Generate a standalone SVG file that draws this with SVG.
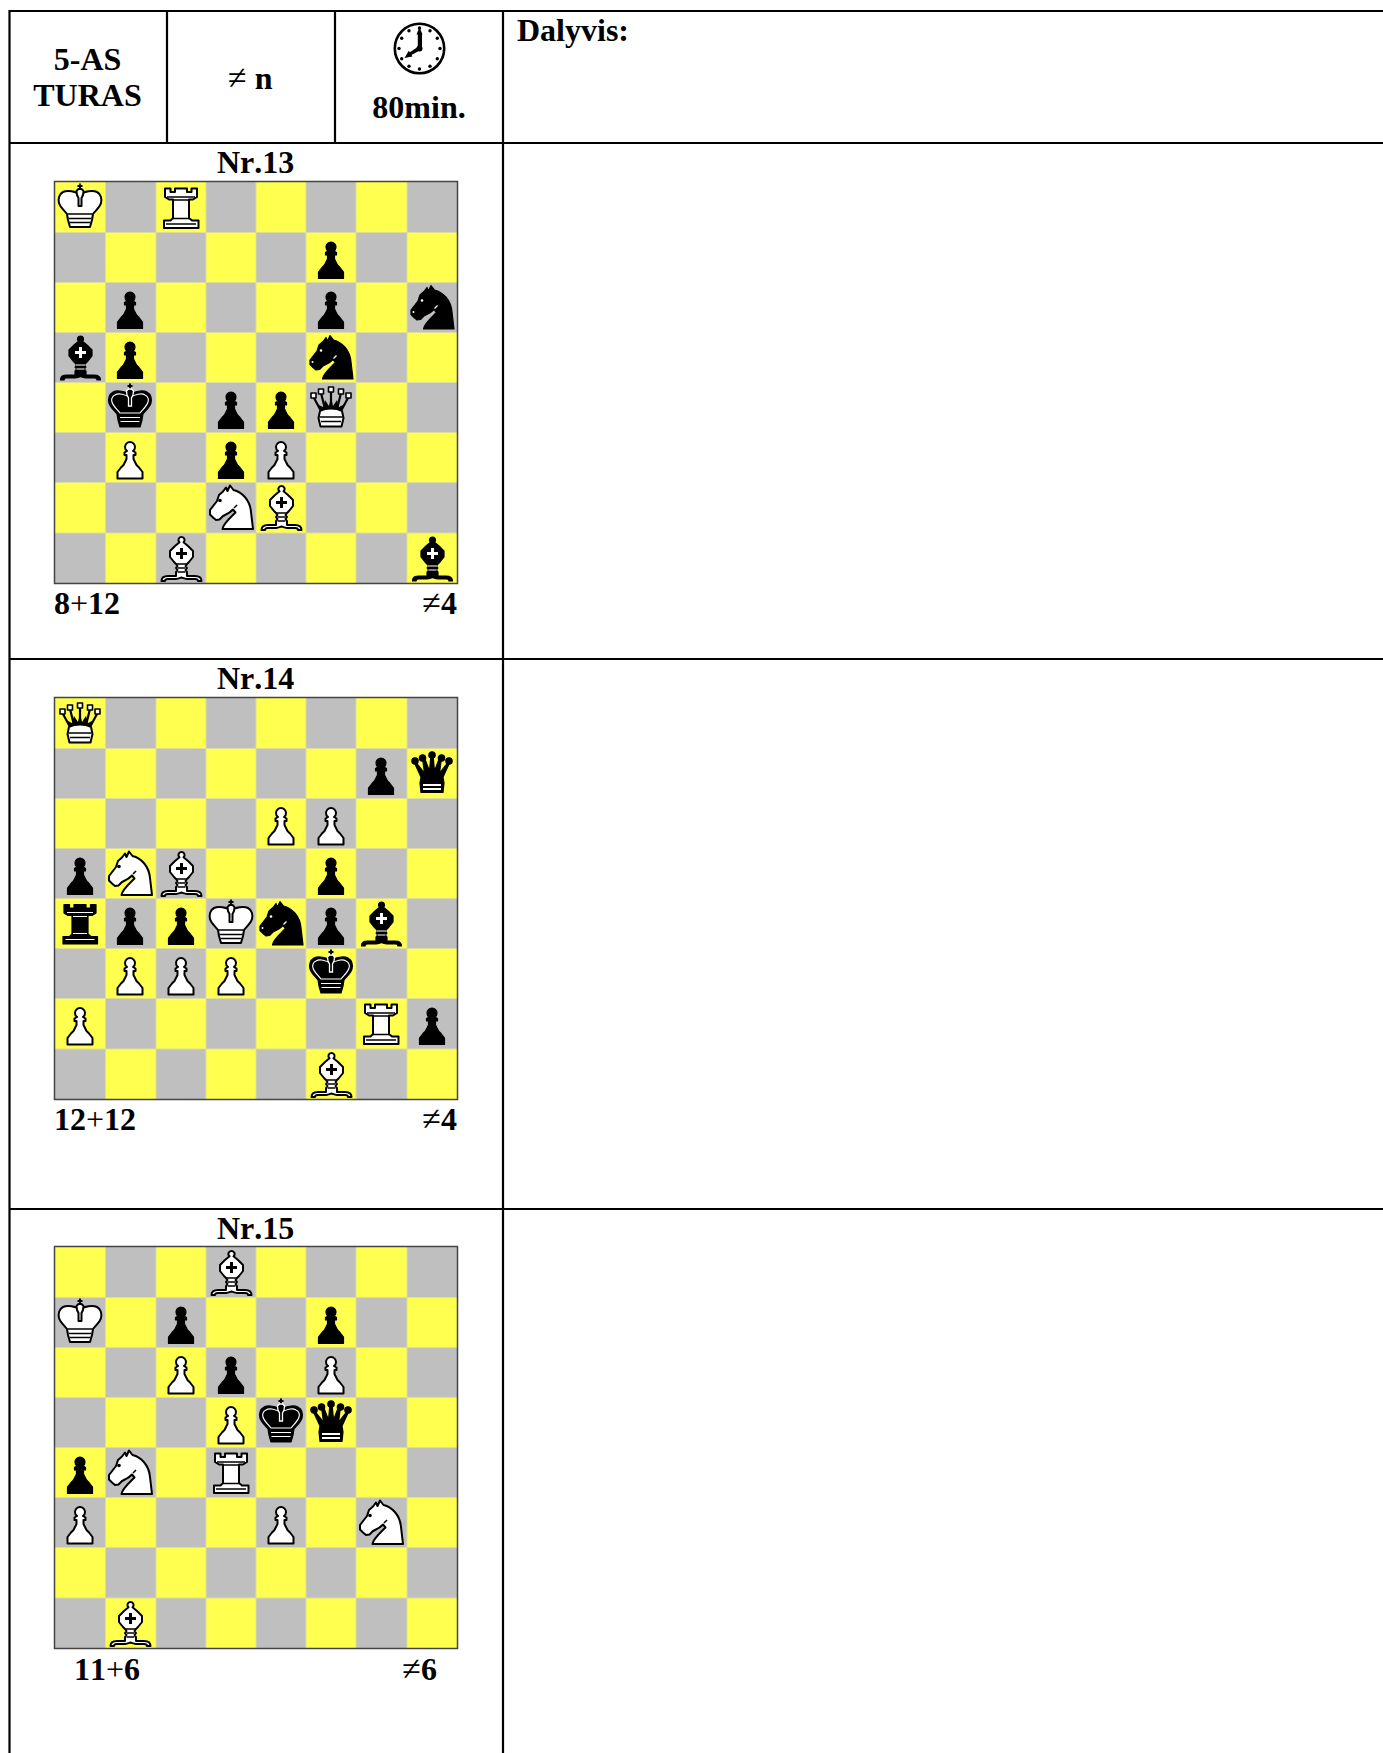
<svg xmlns="http://www.w3.org/2000/svg" xmlns:xlink="http://www.w3.org/1999/xlink" width="1383" height="1753" viewBox="0 0 1383 1753">
<style>
text{font-family:"Liberation Serif","Times New Roman",serif;font-weight:bold;font-size:32px;fill:#000;font-kerning:none}
.n{font-weight:normal;font-size:34px}
.p{font-weight:normal}
.m{text-anchor:middle}
.e{text-anchor:end}
.rule{stroke:#000;stroke-width:2.2;fill:none}
.ow{fill:#fff;stroke:#000;stroke-width:2;stroke-linejoin:round}
.ob{fill:#000;stroke:#000;stroke-width:1.2;stroke-linejoin:round}
.lw{fill:none;stroke:#fff;stroke-width:1.2}
.lb{fill:none;stroke:#000;stroke-width:1.600}
</style>
<defs>
<path id="pP" d="M25 10C22 10 20 12.500 20 15C20 17 21 18.500 22 19L19.500 20.500V23H21.500V27L18.500 33L16 35.500L12.500 40V46.500H37.500V40L34 35.500L31.500 33L28.500 27V23H30.500V20.500L28 19C29 18.500 30 17 30 15C30 12.500 28 10 25 10Z"/>
<path id="pK1" d="M25 13C21 9 12 8 8 10C4 12 3 17 4 21C5 25 9 28 12 32L13 38L15 45H35L37 38L38 32C41 28 45 25 46 21C47 17 46 12 42 10C38 8 29 9 25 13Z"/>
<path id="pKd" d="M22 13l-.500-4 2-2h3l2 2-.500 4-1.500 3v8h-3v-8z"/>
<path id="pR" d="M9 6.500h5.500v3.500h4.500V6.500h12V10h4.500V6.500H41V15l-4 2.500H33V36l3 2.500h6.500V46H8v-7.500h6.500L17 36V17.500h-4L9 15z"/>
<path id="pB" d="M25.500 4A3 3 0 0 0 23.500 9.300L19 13L14 18V24L18 29L20 31L21.500 33L20 35L21.500 37L20 39V43H12C8 43 5.500 44 5.500 48H9C9 46.500 10 46 12 46H20C22 46 24 45 25.500 44.500C27 45 29 46 31 46H39C41 46 42 46.500 42 48H45.500C45.500 44 43 43 39 43H31V39L29.500 37L31 35L29.500 33L31 31L33 29L37 24V18L32 13L27.500 9.300A3 3 0 0 0 25.500 4Z"/>
<path id="pBc" d="M24 15h3v4h4v3h-4v4h-3v-4h-4v-3h4z"/>
<path id="pQc" d="M14 29 7.500 15l2 0 8 10 -2-15 2 0 5 13 1.500-16h2l1.500 16 5-13 2 0-2 15 8-10 2 0L36 29l1 6-1 9.500H14l-1-9.500z"/>
<path id="pN" d="M17 9.500 20 5.500 21.500 9 24 3.500 27.500 8C36 10 44 18 45 30L47 47H16.500C17 42 24 36 29.500 30.500L27 27.500C24 31 20 32.500 17 34L13.500 37.500 10 38 7 35.500 4 32.500 4 28 11 19 13 13z"/>
<g id="wP"><use xlink:href="#pP" class="ow"/></g>
<g id="bP"><use xlink:href="#pP" class="ob"/></g>
<g id="wK"><path d="M22.500 4h5M25 1.500v6" stroke="#000" stroke-width="1.800" fill="none"/><use xlink:href="#pK1" class="ow"/><use xlink:href="#pKd" class="ow"/><path d="M12.500 32h25M13.500 36.500h23M14.500 40.500h21" class="lb"/></g>
<g id="bK"><path d="M22.500 4h5M25 1.500v6" stroke="#000" stroke-width="2" fill="none"/><use xlink:href="#pK1" class="ob"/><path d="M25 16C21 12 13 11 10 13C7 14 6 18 7 20C8 24 12 27 15 31H35C38 27 42 24 43 20C44 18 43 14 40 13C37 11 29 12 25 16Z" class="lw"/><use xlink:href="#pKd" fill="#000" stroke="#fff" stroke-width="1.300"/><path d="M15 35.500h20M15.500 39.500h19" class="lw"/></g>
<g id="wR"><use xlink:href="#pR" class="ow"/><path d="M11 15h28M17 18h16M17 36.500h16M10 42h30" class="lb"/></g>
<g id="bR"><use xlink:href="#pR" class="ob"/><path d="M12 14.500h26M18 18.500h14M18 35.500h14M10.500 41.500h29" class="lw"/></g>
<g id="wB"><use xlink:href="#pB" class="ow"/><use xlink:href="#pBc" fill="#000"/><path d="M20 31h11M21.500 35h8M21.500 39h8" class="lb"/></g>
<g id="bB"><use xlink:href="#pB" class="ob"/><use xlink:href="#pBc" fill="#fff"/><path d="M21 33h9M21.500 37h8" class="lw"/></g>
<g id="wQ"><path d="M7.500 15L15 29M15 11L19 27M25 9V27M35 11L31 27M42.500 15L35 29" stroke="#000" stroke-width="2.200" fill="none"/><path d="M11 22L15 30H35L39 22L33 25L31 18L27 24L25 15L23 24L19 18L17 25Z" fill="#000"/><path d="M14 29C20 25.500 30 25.500 36 29L37.500 36L35.500 44.500H14.500L12.500 36Z" class="ow"/><path d="M13.500 35H36.500M15 39.500H35" class="lb"/><g class="ow" style="stroke-width:1.600"><rect x="5" y="11" width="5" height="5"/><rect x="12.500" y="7" width="5" height="5"/><rect x="22.500" y="5" width="5" height="5"/><rect x="32.500" y="7" width="5" height="5"/><rect x="40" y="11" width="5" height="5"/></g></g>
<g id="bQ"><use xlink:href="#pQc" class="ob"/><g class="ob"><circle cx="8" cy="13" r="3.200"/><circle cx="15.500" cy="10" r="3.200"/><circle cx="25" cy="7" r="3.200"/><circle cx="34.500" cy="10" r="3.200"/><circle cx="42" cy="13" r="3.200"/></g><path d="M16 37h18M16 41h18" stroke="#fff" stroke-width="1.800"/></g>
<g id="wN"><use xlink:href="#pN" class="ow"/><circle cx="14" cy="18.500" r="1.800"/><path d="M28 26l3-3" class="lb"/></g>
<g id="bN"><use xlink:href="#pN" class="ob"/><circle cx="15" cy="18.500" r="1.300" fill="#fff"/><circle cx="6.500" cy="30" r="1" fill="#fff"/><path d="M27.500 26.500l3-3" class="lw"/></g>
<g id="board">
<rect x="0" y="0" width="402" height="401" fill="#bfbfbf"/>
<path fill="#ffff50" d="M0 0h50v50H0zM101 0h50v50h-50zM201 0h50v50h-50zM301 0h51v50h-51zM50 50h51v50H50zM151 50h50v50h-50zM251 50h50v50h-50zM352 50h50v50h-50zM0 100h50v50H0zM101 100h50v50h-50zM201 100h50v50h-50zM301 100h51v50h-51zM50 150h51v50H50zM151 150h50v50h-50zM251 150h50v50h-50zM352 150h50v50h-50zM0 200h50v50H0zM101 200h50v50h-50zM201 200h50v50h-50zM301 200h51v50h-51zM50 250h51v50H50zM151 250h50v50h-50zM251 250h50v50h-50zM352 250h50v50h-50zM0 300h50v51H0zM101 300h50v51h-50zM201 300h50v51h-50zM301 300h51v51h-51zM50 351h51v50H50zM151 351h50v50h-50zM251 351h50v50h-50zM352 351h50v50h-50z"/>
<path stroke="#dede9a" stroke-width="1" fill="none" d="M50.500 0v401M101 0v401M151 0v401M201 0v401M251 0v401M301 0v401M352 0v401M0 50.500h402M0 100.500h402M0 150.500h402M0 200.500h402M0 250.500h402M0 300.500h402M0 351h402"/>
<rect x="-.5" y="-.5" width="403" height="402" fill="none" stroke="#444" stroke-width="1.500"/>
</g>
</defs>
<rect width="1383" height="1753" fill="#fff"/>
<g id="table" class="rule">
<path d="M9.500 1753V11H1383M167 11V143M335 11V143M503 11V1753M9.500 143H1383M9.500 659H1383M9.500 1209H1383"/>
</g>
<g id="header">
<text class="m" x="87.500" y="70">5-AS</text>
<text class="m" x="87.500" y="106">TURAS</text>
<text x="228" y="89"><tspan class="n">≠</tspan> n</text>
<g id="clock">
<circle cx="419.500" cy="48.500" r="24.700" fill="#fff" stroke="#000" stroke-width="2.600"/>
<g fill="#000"><circle cx="419.500" cy="28" r="1.700"/><circle cx="430" cy="30.800" r="1.700"/><circle cx="437.300" cy="38.200" r="1.700"/><circle cx="440" cy="48.500" r="1.700"/><circle cx="437.300" cy="58.800" r="1.700"/><circle cx="430" cy="66.300" r="1.700"/><circle cx="419.500" cy="69" r="1.700"/><circle cx="409" cy="66.300" r="1.700"/><circle cx="401.700" cy="58.800" r="1.700"/><circle cx="399" cy="48.500" r="1.700"/><circle cx="401.700" cy="38.200" r="1.700"/><circle cx="409" cy="30.800" r="1.700"/></g>
<path d="M419.500 27L416.500 34.500H417.800V47L409.800 52.200L408.800 50.700L404.500 58L412.500 56.500L411.500 54.900L422 49.300V34.500H422.500Z" fill="#000"/>
<circle cx="419.500" cy="48.500" r="3" fill="#000"/>
</g>
<text class="m" x="419" y="118">80min.</text>
<text x="517" y="41">Dalyvis:</text>
</g>
<g id="puzzle13">
<text x="217" y="173">Nr.13</text>
<use xlink:href="#board" x="55" y="182"/>
<use xlink:href="#wK" x="55" y="182"/><use xlink:href="#wR" x="156" y="182"/>
<use xlink:href="#bP" x="306" y="232"/>
<use xlink:href="#bP" x="105" y="282"/><use xlink:href="#bP" x="306" y="282"/><use xlink:href="#bN" x="407" y="282"/>
<use xlink:href="#bB" x="55" y="332"/><use xlink:href="#bP" x="105" y="332"/><use xlink:href="#bN" x="306" y="332"/>
<use xlink:href="#bK" x="105" y="382"/><use xlink:href="#bP" x="206" y="382"/><use xlink:href="#bP" x="256" y="382"/><use xlink:href="#wQ" x="306" y="382"/>
<use xlink:href="#wP" x="105" y="432"/><use xlink:href="#bP" x="206" y="432"/><use xlink:href="#wP" x="256" y="432"/>
<use xlink:href="#wN" x="206" y="482"/><use xlink:href="#wB" x="256" y="482"/>
<use xlink:href="#wB" x="156" y="533"/><use xlink:href="#bB" x="407" y="533"/>
<text x="54" y="614">8<tspan class="p">+</tspan>12</text>
<text class="e" x="457" y="614"><tspan class="n">≠</tspan>4</text>
</g>
<g id="puzzle14">
<text x="217" y="689">Nr.14</text>
<use xlink:href="#board" x="55" y="698"/>
<use xlink:href="#wQ" x="55" y="698"/>
<use xlink:href="#bP" x="356" y="748"/><use xlink:href="#bQ" x="407" y="748"/>
<use xlink:href="#wP" x="256" y="798"/><use xlink:href="#wP" x="306" y="798"/>
<use xlink:href="#bP" x="55" y="848"/><use xlink:href="#wN" x="105" y="848"/><use xlink:href="#wB" x="156" y="848"/><use xlink:href="#bP" x="306" y="848"/>
<use xlink:href="#bR" x="55" y="898"/><use xlink:href="#bP" x="105" y="898"/><use xlink:href="#bP" x="156" y="898"/><use xlink:href="#wK" x="206" y="898"/><use xlink:href="#bN" x="256" y="898"/><use xlink:href="#bP" x="306" y="898"/><use xlink:href="#bB" x="356" y="898"/>
<use xlink:href="#wP" x="105" y="948"/><use xlink:href="#wP" x="156" y="948"/><use xlink:href="#wP" x="206" y="948"/><use xlink:href="#bK" x="306" y="948"/>
<use xlink:href="#wP" x="55" y="998"/><use xlink:href="#wR" x="356" y="998"/><use xlink:href="#bP" x="407" y="998"/>
<use xlink:href="#wB" x="306" y="1049"/>
<text x="54" y="1130">12<tspan class="p">+</tspan>12</text>
<text class="e" x="457" y="1130"><tspan class="n">≠</tspan>4</text>
</g>
<g id="puzzle15">
<text x="217" y="1239">Nr.15</text>
<use xlink:href="#board" x="55" y="1247"/>
<use xlink:href="#wB" x="206" y="1247"/>
<use xlink:href="#wK" x="55" y="1297"/><use xlink:href="#bP" x="156" y="1297"/><use xlink:href="#bP" x="306" y="1297"/>
<use xlink:href="#wP" x="156" y="1347"/><use xlink:href="#bP" x="206" y="1347"/><use xlink:href="#wP" x="306" y="1347"/>
<use xlink:href="#wP" x="206" y="1397"/><use xlink:href="#bK" x="256" y="1397"/><use xlink:href="#bQ" x="306" y="1397"/>
<use xlink:href="#bP" x="55" y="1447"/><use xlink:href="#wN" x="105" y="1447"/><use xlink:href="#wR" x="206" y="1447"/>
<use xlink:href="#wP" x="55" y="1497"/><use xlink:href="#wP" x="256" y="1497"/><use xlink:href="#wN" x="356" y="1497"/>
<use xlink:href="#wB" x="105" y="1598"/>
<text x="74" y="1680">11<tspan class="p">+</tspan>6</text>
<text class="e" x="437" y="1680"><tspan class="n">≠</tspan>6</text>
</g>
</svg>
